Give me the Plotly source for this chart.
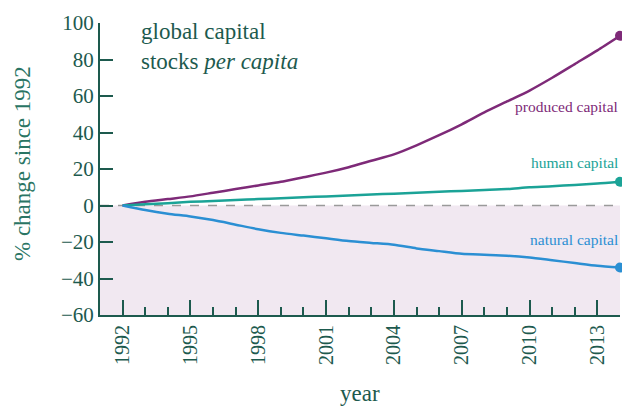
import plotly.graph_objects as go

years = list(range(1992, 2015))
produced = [0, 2, 3.5, 5, 7, 9, 11, 13, 15.5, 18, 21, 24.5, 28, 33, 38.5, 44.5, 51, 57, 63, 70, 77.5, 85, 93]
human = [0, 0.7, 1.3, 2, 2.5, 3, 3.5, 4, 4.5, 5, 5.5, 6, 6.5, 7, 7.5, 8, 8.5, 9, 10, 10.5, 11.3, 12, 13]
natural = [0, -2.5, -4.5, -6, -8, -10.5, -13, -15, -16.5, -18, -19.5, -20.5, -21.5, -23.5, -25, -26.5, -27, -27.5, -28.5, -30, -31.5, -33, -34]

series = [
    ("produced capital", produced, "#7e2a78", 106),
    ("human capital", human, "#1ba397", 162),
    ("natural capital", natural, "#2b8fd3", 239),
]

AXC = "#1d5a4e"
FONT = "'Liberation Serif', 'Times New Roman', Times, serif"

fig = go.Figure()
for name, vals, col, _ in series:
    fig.add_trace(go.Scatter(
        x=years, y=vals, mode="lines", name=name,
        line=dict(color=col, width=2.5, shape="spline", smoothing=0.6),
        showlegend=False, cliponaxis=False, hoverinfo="skip"))
    fig.add_trace(go.Scatter(
        x=[years[-1]], y=[vals[-1]], mode="markers",
        marker=dict(color=col, size=10), showlegend=False, cliponaxis=False, hoverinfo="skip"))

fig.add_shape(type="rect", xref="paper", yref="y", x0=0, x1=1, y0=-60, y1=0,
              fillcolor="#f1e8f1", line=dict(width=0), layer="below")
fig.add_shape(type="line", xref="paper", yref="y", x0=0, x1=1, y0=0, y1=0,
              line=dict(color="#9a9a9a", width=1.5, dash="dash"), layer="below")

for name, vals, col, ypix in series:
    fig.add_annotation(text=name, xref="paper", yref="paper", x=1.0,
                       y=1 - (ypix - 23) / 292, xanchor="right", yanchor="middle",
                       showarrow=False, font=dict(family=FONT, size=15.5, color=col))

fig.add_annotation(text="global capital<br>stocks <i>per capita</i>", xref="paper", yref="paper",
                   x=(139 - 100) / 520, y=1.02, xanchor="left", yanchor="top", align="left",
                   showarrow=False, font=dict(family=FONT, size=23, color=AXC))
fig.add_annotation(text="% change since 1992", xref="paper", yref="paper",
                   x=-(100 - 22) / 520, y=(315 - 164) / 292, textangle=-90, xanchor="center", yanchor="middle",
                   showarrow=False, font=dict(family=FONT, size=23, color="#2a7564"))
fig.add_annotation(text="year", xref="paper", yref="paper",
                   x=0.5, y=-(393 - 315) / 292, xanchor="center", yanchor="middle",
                   showarrow=False, font=dict(family=FONT, size=23, color=AXC))

fig.update_xaxes(range=[1991, 2014], tickmode="linear", tick0=1992, dtick=3,
                 ticks="inside", ticklen=15, tickwidth=2, tickcolor=AXC,
                 minor=dict(dtick=1, tick0=1992, ticks="inside", ticklen=8, tickwidth=2, tickcolor=AXC),
                 showline=True, linecolor=AXC, linewidth=2, showgrid=False, zeroline=False,
                 tickangle=-90, tickfont=dict(family=FONT, size=20, color=AXC))
fig.update_yaxes(range=[-60, 100], tickmode="linear", tick0=-60, dtick=20,
                 ticks="inside", ticklen=13, tickwidth=2, tickcolor=AXC,
                 showline=True, linecolor=AXC, linewidth=2, showgrid=False, zeroline=False,
                 tickfont=dict(family=FONT, size=21, color=AXC))

fig.update_layout(width=622, height=407, margin=dict(l=100, r=2, t=23, b=92),
                  plot_bgcolor="white", paper_bgcolor="white",
                  font=dict(family=FONT, color=AXC))
fig.write_html("out.html", config={"displayModeBar": False},
               post_script="document.body.style.margin='0';document.body.style.overflow='hidden';")
